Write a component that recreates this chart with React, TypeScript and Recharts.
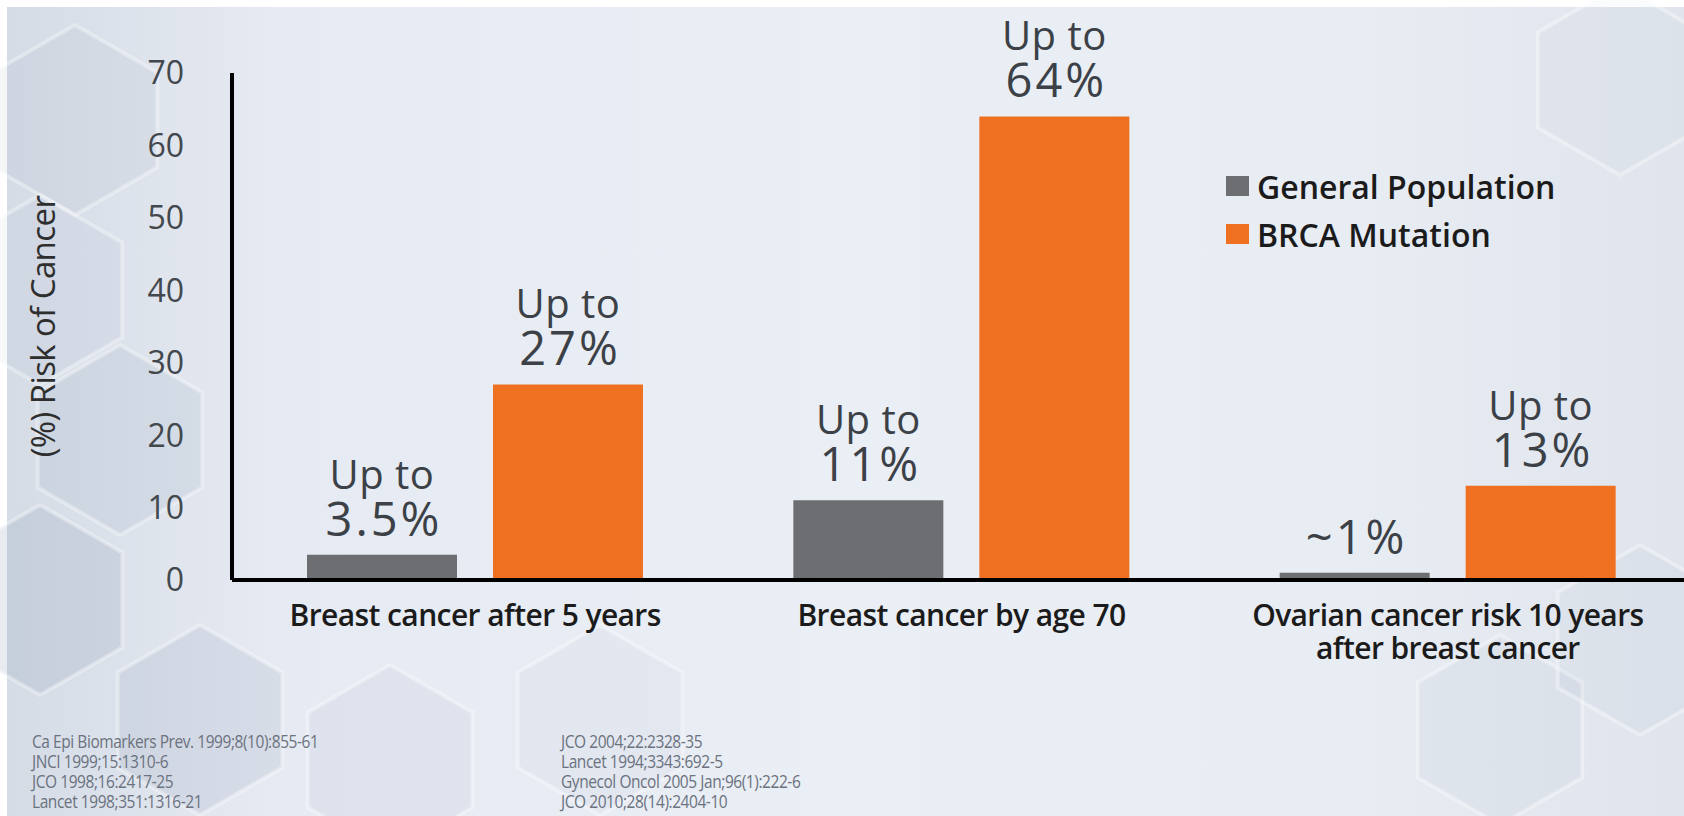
import React from 'react';
import { BarChart, Bar, XAxis, YAxis, Legend, LabelList, Label } from 'recharts';

const categories = [
  'Breast cancer after 5 years',
  'Breast cancer by age 70',
  'Ovarian cancer risk 10 years\nafter breast cancer',
];
const generalValues = [3.5, 11, 1];
const brcaValues = [27, 64, 13];
const generalPrefix = ['Up to', 'Up to', ''];
const generalText = ['3.5%', '11%', '~1%'];
const brcaPrefix = ['Up to', 'Up to', 'Up to'];
const brcaText = ['27%', '64%', '13%'];
const yTicks = [0, 10, 20, 30, 40, 50, 60, 70];
const seriesNames = ['General Population', 'BRCA Mutation'];
const refsLeft = [
  'Ca Epi Biomarkers Prev. 1999;8(10):855-61',
  'JNCI 1999;15:1310-6',
  'JCO 1998;16:2417-25',
  'Lancet 1998;351:1316-21',
];
const refsRight = [
  'JCO 2004;22:2328-35',
  'Lancet 1994;3343:692-5',
  'Gynecol Oncol 2005 Jan;96(1):222-6',
  'JCO 2010;28(14):2404-10',
];

const data = categories.map((name, i) => ({
  name,
  general: generalValues[i],
  brca: brcaValues[i],
}));

const GREY = '#6d6e71';
const ORANGE = '#f07022';
const FONT = '"Open Sans", "Noto Sans", sans-serif';

// decorative hexagons in the background
const hexPts = (cx: number, cy: number, r: number) =>
  [0, 1, 2, 3, 4, 5]
    .map((k) => {
      const a = (Math.PI / 3) * k + Math.PI / 6;
      return `${cx + r * Math.cos(a)},${cy + r * Math.sin(a)}`;
    })
    .join(' ');

const hexes = [
  { cx: 75, cy: 120, r: 95, o: 0.08 },
  { cx: 40, cy: 290, r: 95, o: 0.06 },
  { cx: 120, cy: 440, r: 95, o: 0.12 },
  { cx: 40, cy: 600, r: 95, o: 0.18 },
  { cx: 200, cy: 720, r: 95, o: 0.14 },
  { cx: 390, cy: 760, r: 95, o: 0.08 },
  { cx: 600, cy: 720, r: 95, o: 0.05 },
  { cx: 1500, cy: 730, r: 95, o: 0.06 },
  { cx: 1640, cy: 640, r: 95, o: 0.05 },
  { cx: 1620, cy: 80, r: 95, o: 0.04 },
];

const makeBarLabel = (values: number[], prefix: string[], text: string[]) => (props: any) => {
  const { x, y, width } = props;
  const i = props.index ?? values.indexOf(Number(props.value));
  const cx = Number(x) + Number(width) / 2;
  const top = Number(y);
  return (
    <g>
      {prefix[i] ? (
        <text x={cx} y={top - 66} textAnchor="middle" fontSize={40} fill="#3b4147" fontFamily={FONT} letterSpacing={0.5}>
          {prefix[i]}
        </text>
      ) : null}
      <text x={cx + 2} y={top - 19} textAnchor="middle" fontSize={47} fill="#3b4147" fontFamily={FONT} letterSpacing={3}>
        {text[i]}
      </text>
    </g>
  );
};

const XTick = (props: any) => {
  const { x, y, payload } = props;
  const lines = String(payload.value).split('\n');
  return (
    <text x={x} y={y} textAnchor="middle" fontSize={30} fontWeight={600} fill="#1b1b1b" fontFamily={FONT} letterSpacing={-0.6}>
      {lines.map((l, i) => (
        <tspan key={i} x={x} dy={i === 0 ? 38 : 33}>
          {l}
        </tspan>
      ))}
    </text>
  );
};

const LegendContent = (props: any) => {
  const items = [...(props.payload || [])].sort(
    (a: any, b: any) => seriesNames.indexOf(a.value) - seriesNames.indexOf(b.value),
  );
  return (
    <div style={{ fontFamily: FONT }}>
      {items.map((it: any) => (
        <div key={it.value} style={{ display: 'flex', alignItems: 'center', height: 48 }}>
          <span style={{ width: 23, height: 20, background: it.color, marginRight: 8, display: 'inline-block' }} />
          <span style={{ fontSize: 32, fontWeight: 600, color: '#1b1b1b' }}>{it.value}</span>
        </div>
      ))}
    </div>
  );
};

const App: React.FC = () => {
  return (
    <div style={{ position: 'absolute', left: 0, top: 0, width: 1684, height: 816, overflow: 'hidden', background: '#ffffff' }}>
      <div
        style={{
          position: 'absolute',
          left: 7,
          top: 7,
          right: 0,
          bottom: 0,
          background: 'linear-gradient(90deg, #d5dce6 0%, #e6eaf2 16%, #eaeef5 50%, #e8ecf3 80%, #e0e5ed 100%)',
        }}
      />
      <svg width={1684} height={816} style={{ position: 'absolute', left: 0, top: 0 }}>
        {hexes.map((h, i) => (
          <polygon key={i} points={hexPts(h.cx, h.cy, h.r)} fill="#7f90ab" fillOpacity={h.o} stroke="#ffffff" strokeOpacity={0.35} strokeWidth={4} />
        ))}
      </svg>

      <div style={{ position: 'absolute', left: 0, top: 0 }}>
        <BarChart
          width={1700}
          height={816}
          data={data}
          margin={{ top: 73, right: 9, bottom: 176, left: 0 }}
          barGap={36}
          barSize={150}
        >
          <XAxis
            dataKey="name"
            height={60}
            axisLine={{ stroke: '#000', strokeWidth: 4 }}
            tickLine={false}
            tick={<XTick />}
            interval={0}
          />
          <YAxis
            width={232}
            domain={[0, 70]}
            ticks={yTicks}
            axisLine={{ stroke: '#000', strokeWidth: 4 }}
            tickLine={false}
            tickSize={0}
            tickMargin={48}
            tick={{ fontSize: 32, fill: '#43484d', fontFamily: FONT }}
          >
            <Label
              content={(p: any) => {
                const vb = p.viewBox || {};
                const cy = vb.y + vb.height / 2;
                return (
                  <text
                    x={42}
                    y={cy}
                    transform={`rotate(-90 42 ${cy})`}
                    textAnchor="middle"
                    dominantBaseline="central"
                    fontSize={33}
                    fill="#2e2e2e"
                    fontFamily={FONT}
                    letterSpacing={-0.6}
                  >
                    (%) Risk of Cancer
                  </text>
                );
              }}
            />
          </YAxis>
          <Legend
            layout="vertical"
            align="center"
            verticalAlign="middle"
            wrapperStyle={{ left: 1226, top: 162, width: 440 }}
            content={<LegendContent />}
          />
          <Bar dataKey="general" name={seriesNames[0]} fill={GREY} isAnimationActive={false}>
            <LabelList dataKey="general" content={makeBarLabel(generalValues, generalPrefix, generalText)} />
          </Bar>
          <Bar dataKey="brca" name={seriesNames[1]} fill={ORANGE} isAnimationActive={false}>
            <LabelList dataKey="brca" content={makeBarLabel(brcaValues, brcaPrefix, brcaText)} />
          </Bar>
        </BarChart>
      </div>

      {[refsLeft, refsRight].map((col, c) => (
        <div
          key={c}
          style={{
            position: 'absolute',
            left: c === 0 ? 32 : 561,
            top: 731,
            fontFamily: FONT,
            fontSize: 18,
            color: '#6b7280',
            lineHeight: '20px',
            letterSpacing: -0.5,
            transform: 'scaleX(0.86)',
            transformOrigin: 'left top',
            whiteSpace: 'nowrap',
          }}
        >
          {col.map((r) => (
            <div key={r}>{r}</div>
          ))}
        </div>
      ))}
    </div>
  );
};

export default App;
